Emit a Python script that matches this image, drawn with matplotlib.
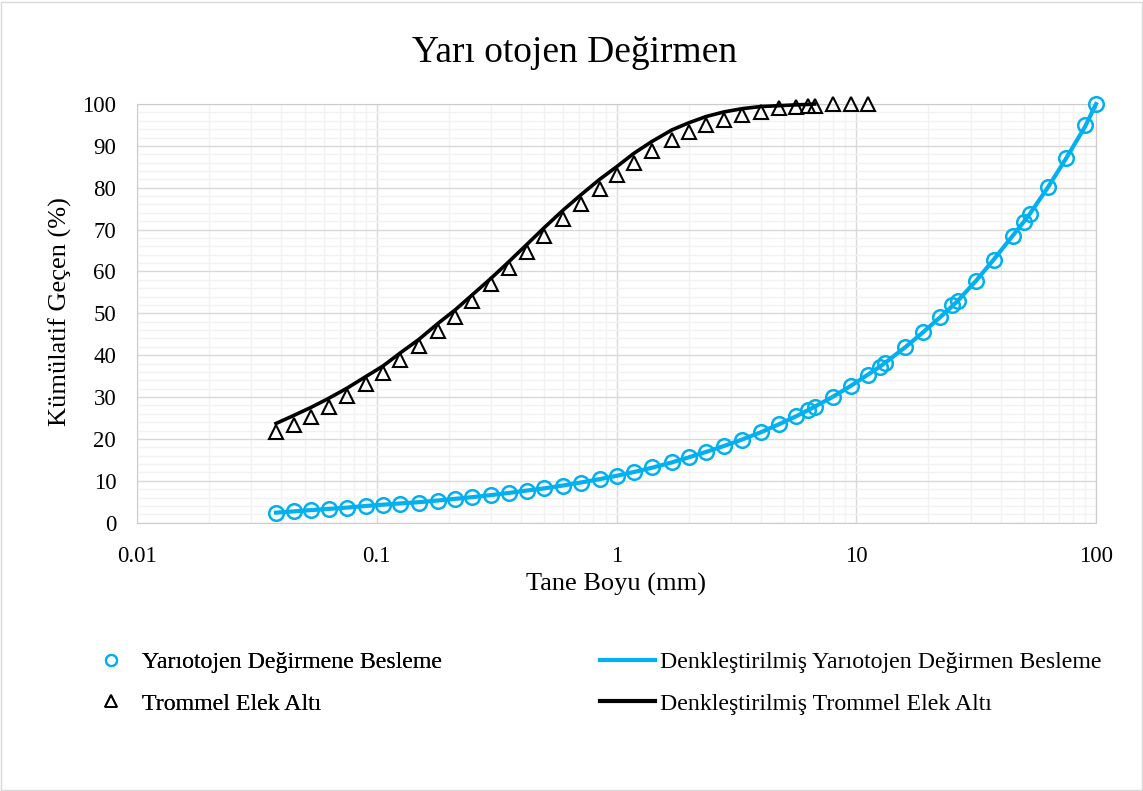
import matplotlib
matplotlib.use("Agg")
import matplotlib.pyplot as plt
from matplotlib.ticker import MultipleLocator, LogLocator, FixedLocator, FixedFormatter, NullFormatter
from matplotlib.lines import Line2D
from matplotlib.patches import Rectangle

plt.rcParams['font.family'] = ['Liberation Serif', 'DejaVu Serif']

# Besleme (yarı otojen değirmene besleme) - elek açıklıkları (mm) ve kümülatif geçen (%)
besleme_x = [0.038, 0.045, 0.053, 0.063, 0.075, 0.09, 0.106, 0.125, 0.15, 0.18,
             0.212, 0.25, 0.3, 0.355, 0.425, 0.5, 0.6, 0.71, 0.85, 1.0,
             1.18, 1.4, 1.7, 2.0, 2.36, 2.8, 3.35, 4.0, 4.75, 5.6,
             6.3, 6.7, 8.0, 9.5, 11.2, 12.5, 13.2, 16, 19, 22.4,
             25, 26.5, 31.5, 37.5, 45, 50, 53, 63, 75, 90, 100]
besleme_y = [2.4, 2.7, 3.0, 3.3, 3.6, 4.0, 4.2, 4.5, 4.8, 5.2,
             5.6, 6.1, 6.5, 7.0, 7.6, 8.2, 8.8, 9.5, 10.4, 11.2,
             12.2, 13.2, 14.5, 15.7, 17.0, 18.3, 19.8, 21.7, 23.5, 25.5,
             26.8, 27.6, 30.1, 32.6, 35.3, 37.2, 38.1, 41.9, 45.5, 49.1,
             51.9, 53.0, 57.8, 62.8, 68.4, 71.9, 73.8, 80.2, 87.1, 95.1, 100]
besleme_fit = [2.4, 2.7, 3.0, 3.3, 3.6, 4.0, 4.3, 4.6, 4.9, 5.3,
               5.7, 6.1, 6.6, 7.1, 7.7, 8.2, 8.9, 9.6, 10.4, 11.2,
               12.1, 13.1, 14.4, 15.6, 16.9, 18.3, 19.9, 21.6, 23.5, 25.4,
               26.9, 27.7, 30.1, 32.7, 35.4, 37.2, 38.2, 41.9, 45.5, 49.1,
               51.6, 53.0, 57.7, 62.9, 68.6, 71.9, 73.8, 80.1, 87.0, 94.6, 100]

# Trommel elek altı
trommel_x = [0.038, 0.045, 0.053, 0.063, 0.075, 0.09, 0.106, 0.125, 0.15, 0.18,
             0.212, 0.25, 0.3, 0.355, 0.425, 0.5, 0.6, 0.71, 0.85, 1.0,
             1.18, 1.4, 1.7, 2.0, 2.36, 2.8, 3.35, 4.0, 4.75, 5.6,
             6.3, 6.7, 8.0, 9.5, 11.2]
trommel_y = [21.6, 23.3, 25.3, 27.7, 30.3, 33.1, 35.8, 38.9, 42.2, 45.9,
             49.2, 53.0, 56.9, 60.8, 64.7, 68.5, 72.5, 76.2, 79.7, 83.0,
             86.0, 88.8, 91.4, 93.4, 95.0, 96.3, 97.4, 98.2, 99.0, 99.3,
             99.5, 99.6, 100, 100, 100]
trommel_fit_x = trommel_x[:32]
trommel_fit = [23.7, 25.6, 27.5, 29.7, 32.1, 34.9, 37.4, 40.5, 43.8, 47.6,
               50.8, 54.4, 58.4, 62.3, 66.6, 70.5, 74.7, 78.3, 82.0, 85.0,
               88.2, 91.0, 93.8, 95.5, 97.0, 98.1, 98.9, 99.4, 99.6, 99.8,
               99.9, 100.0]

x_ticks = [0.01, 0.1, 1, 10, 100]
x_tick_labels = ["0.01", "0.1", "1", "10", "100"]

MAVI = "#00B0F0"

fig = plt.figure(figsize=(11.43, 7.91), dpi=100)
ax = fig.add_axes([0.1199, 0.3392, 0.8390, 0.5293])

# veri noktaları
ax.plot(besleme_x, besleme_y, linestyle="none", marker="o", ms=10.5,
        mfc="none", mec=MAVI, mew=1.8, zorder=3, clip_on=False)
ax.plot(trommel_x, trommel_y, linestyle="none", marker="^", ms=10,
        mfc="none", mec="black", mew=1.5, zorder=3, clip_on=False)

# denkleştirilmiş eğriler
ax.plot(besleme_x, besleme_fit, color=MAVI, lw=3, zorder=4, clip_on=False)
ax.plot(trommel_fit_x, trommel_fit, color="black", lw=2.6, zorder=4, clip_on=False)

ax.set_xscale("log")
ax.set_xlim(0.01, 100)
ax.set_ylim(0, 100)
ax.xaxis.set_major_locator(FixedLocator(x_ticks))
ax.xaxis.set_major_formatter(FixedFormatter(x_tick_labels))
ax.xaxis.set_minor_locator(LogLocator(base=10, subs=range(2, 10)))
ax.xaxis.set_minor_formatter(NullFormatter())
ax.yaxis.set_major_locator(MultipleLocator(10))
ax.yaxis.set_minor_locator(MultipleLocator(2))

ax.grid(which="minor", color="#f2f2f2", lw=1, zorder=0)
ax.grid(which="major", color="#d9d9d9", lw=1, zorder=1)
ax.set_axisbelow(True)
for s in ax.spines.values():
    s.set_color("#cccccc")
ax.tick_params(which="both", length=0, labelsize=16.5)
ax.tick_params(axis="x", pad=17)
ax.tick_params(axis="y", pad=15)

fig.text(575 / 1143, 1 - 53 / 791, "Yarı otojen Değirmen", ha="center", va="center", fontsize=27)
fig.text(616 / 1143, 1 - 584 / 791, "Tane Boyu (mm)", ha="center", va="center", fontsize=19)
fig.text(60 / 1143, 1 - 312 / 791, "Kümülatif Geçen (%)", ha="center", va="center",
         rotation=90, fontsize=19)

# lejant
h1 = Line2D([], [], linestyle="none", marker="o", ms=8, mfc="none", mec=MAVI, mew=1.5)
h2 = Line2D([], [], linestyle="none", marker="^", ms=8, mfc="none", mec="black", mew=1.3)
h3 = Line2D([], [], color=MAVI, lw=3)
h4 = Line2D([], [], color="black", lw=3)

leg1 = fig.legend([h1, h2], ["Yarıotojen Değirmene Besleme", "Trommel Elek Altı"],
                  loc="center left", bbox_to_anchor=(99 / 1143, 1 - 683 / 791),
                  frameon=False, fontsize=17.2, handlelength=1.0, handletextpad=0.8,
                  labelspacing=0.84, borderpad=0, borderaxespad=0)
leg2 = fig.legend([h3, h4], ["Denkleştirilmiş Yarıotojen Değirmen Besleme",
                             "Denkleştirilmiş Trommel Elek Altı"],
                  loc="center left", bbox_to_anchor=(600 / 1143, 1 - 683 / 791),
                  frameon=False, fontsize=17.2, handlelength=2.3, handletextpad=0.2,
                  labelspacing=0.84, borderpad=0, borderaxespad=0)
fig.add_artist(leg1)

fig.patches.append(Rectangle((0.001, 0.001), 0.998, 0.997, transform=fig.transFigure,
                             fill=False, edgecolor="#d9d9d9", lw=1))

fig.savefig("out.png", dpi=100)
